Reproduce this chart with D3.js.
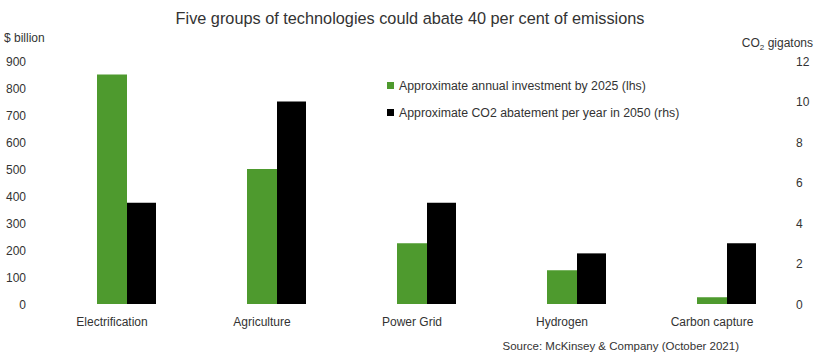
<!DOCTYPE html>
<html>
<head>
<meta charset="utf-8">
<script src="https://cdn.jsdelivr.net/npm/d3@7"></script>
<style>
  body { margin: 0; background: #fff; }
  text { font-family: "Liberation Sans", Arial, sans-serif; fill: #333; }
</style>
</head>
<body>
<svg id="chart" width="820" height="357"></svg>
<script>
const categories = ["Electrification", "Agriculture", "Power Grid", "Hydrogen", "Carbon capture"];
const investment = [850, 500, 225, 125, 25];      // $ billion (lhs)
const abatement = [5, 10, 5, 2.5, 3];             // CO2 gigatons (rhs)
const leftTicks = [0, 100, 200, 300, 400, 500, 600, 700, 800, 900];
const rightTicks = [0, 2, 4, 6, 8, 10, 12];
const seriesNames = ["Approximate annual investment by 2025 (lhs)", "Approximate CO2 abatement per year in 2050 (rhs)"];
const colors = ["#4e9a2e", "#000000"];

const svg = d3.select("#chart");

const x = d3.scaleBand().domain(categories).range([37, 787]);
const yL = d3.scaleLinear().domain([0, 900]).range([304, 61]);
const yR = d3.scaleLinear().domain([0, 12]).range([304, 61]);

// title
svg.append("text").attr("x", 410).attr("y", 24).attr("text-anchor", "middle")
  .style("font-size", "16.3px").text("Five groups of technologies could abate 40 per cent of emissions");

// axis titles
svg.append("text").attr("x", 4).attr("y", 42).style("font-size", "12px").text("$ billion");
const rt = svg.append("text").attr("x", 813).attr("y", 47).attr("text-anchor", "end").style("font-size", "12px");
rt.append("tspan").text("CO");
rt.append("tspan").attr("dy", 3).style("font-size", "8px").text("2");
rt.append("tspan").attr("dy", -3).text(" gigatons");

// left axis
const gL = svg.append("g").attr("transform", "translate(26,0)")
  .call(d3.axisLeft(yL).tickValues(leftTicks).tickSize(0).tickPadding(0));
gL.select(".domain").remove();
gL.selectAll("text").style("font-size", "12px").attr("fill", "#333").attr("dy", "0.35em");

// right axis
const gR = svg.append("g").attr("transform", "translate(796,0)")
  .call(d3.axisRight(yR).tickValues(rightTicks).tickSize(0).tickPadding(0));
gR.select(".domain").remove();
gR.selectAll("text").style("font-size", "12px").attr("fill", "#333").attr("dy", "0.35em");

// bars
const bw = 30;
svg.append("g").selectAll("rect").data(categories).join("rect")
  .attr("x", d => x(d) + x.bandwidth() / 2 - bw / 2)
  .attr("width", bw)
  .attr("y", (d, i) => yL(investment[i]))
  .attr("height", (d, i) => yL(0) - yL(investment[i]))
  .attr("fill", colors[0]);

svg.append("g").selectAll("rect").data(categories).join("rect")
  .attr("x", d => x(d) + x.bandwidth() / 2 + bw / 2)
  .attr("width", 29)
  .attr("y", (d, i) => yR(abatement[i]))
  .attr("height", (d, i) => yR(0) - yR(abatement[i]))
  .attr("fill", colors[1]);

// category labels
const gX = svg.append("g").attr("transform", "translate(0,304)")
  .call(d3.axisBottom(x).tickSize(0).tickPadding(0));
gX.select(".domain").remove();
gX.selectAll("text").style("font-size", "12px").attr("fill", "#333").attr("dy", "0").attr("y", 22);

// legend
const lg = svg.append("g");
seriesNames.forEach((s, i) => {
  const yy = 86 + i * 27;
  lg.append("rect").attr("x", 387).attr("y", yy - 4).attr("width", 7).attr("height", 7).attr("fill", colors[i]);
  lg.append("text").attr("x", 399).attr("y", yy).attr("dy", "0.35em").style("font-size", "12.3px").text(s);
});

// source
svg.append("text").attr("x", 739).attr("y", 350).attr("text-anchor", "end")
  .style("font-size", "11.5px").text("Source: McKinsey & Company (October 2021)");
</script>
</body>
</html>
